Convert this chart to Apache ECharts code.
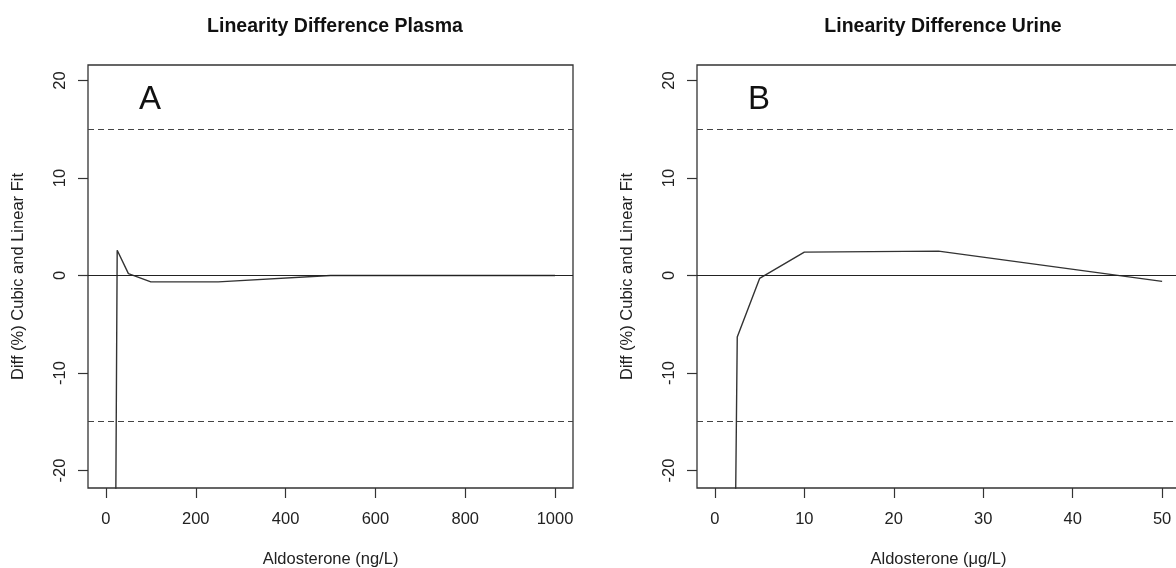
<!DOCTYPE html>
<html><head><meta charset="utf-8">
<script src="https://cdn.jsdelivr.net/npm/echarts@6/dist/echarts.min.js"></script>
<style>html,body{margin:0;padding:0;background:#fff}#c{width:1176px;height:568px}</style>
</head><body><div id="c"></div>
<script>
// Panel A: plasma
const plasmaX = [12.5, 25, 50, 100, 250, 500, 1000];
const plasmaDiff = [-100, 2.6, 0.2, -0.65, -0.65, 0.0, 0.0];
// Panel B: urine
const urineX = [1.25, 2.5, 5, 10, 25, 50];
const urineDiff = [-120, -6.3, -0.3, 2.4, 2.5, -0.6];
const plasmaTicks = [0, 200, 400, 600, 800, 1000];
const urineTicks = [0, 10, 20, 30, 40, 50];
const yTicks = [-20, -10, 0, 10, 20];
const limitLines = [15, -15];
const zeroLine = [0];

const FONT = 'Liberation Sans, Arial, sans-serif';
const ink = '#333';

function xAx(idx, min, max, ticks, name) {
  return {
    gridIndex: idx, type: 'value', min: min, max: max,
    name: name, nameLocation: 'middle', nameGap: 63,
    nameTextStyle: {fontFamily: FONT, fontSize: 16.5, color: '#222'},
    axisLine: {show: false, onZero: false},
    axisTick: {show: true, inside: false, length: 10, lineStyle: {color: ink, width: 1.2}, customValues: ticks},
    axisLabel: {fontFamily: FONT, fontSize: 16.5, color: '#222', margin: 23, customValues: ticks,
                formatter: v => String(v)},
    splitLine: {show: false}
  };
}
function yAx(idx) {
  return {
    gridIndex: idx, type: 'value', min: -21.8, max: 21.6,
    name: 'Diff (%) Cubic and Linear Fit', nameLocation: 'middle', nameGap: 61,
    nameTextStyle: {fontFamily: FONT, fontSize: 16.5, color: '#222'},
    axisLine: {show: false, onZero: false},
    axisTick: {show: true, inside: false, length: 10, lineStyle: {color: ink, width: 1.2}, customValues: yTicks},
    axisLabel: {fontFamily: FONT, fontSize: 16.5, color: '#222', margin: 19, rotate: 90, customValues: yTicks,
                formatter: v => String(v)},
    splitLine: {show: false}
  };
}
function refLines() {
  return {
    silent: true, symbol: 'none', label: {show: false},
    data: limitLines.map(v => ({yAxis: v, lineStyle: {type: [6, 4], color: '#444', width: 1.2}}))
      .concat(zeroLine.map(v => ({yAxis: v, lineStyle: {type: 'solid', color: '#222', width: 1.2}})))
  };
}

const chart = echarts.init(document.getElementById('c'), null, {renderer: 'canvas'});
chart.setOption({
  animation: false,
  backgroundColor: '#fff',
  title: [
    {text: 'Linearity Difference Plasma', left: 330, top: 12, textAlign: 'center',
     textStyle: {fontFamily: FONT, fontSize: 19.5, fontWeight: 'bold', color: '#111'}},
    {text: 'Linearity Difference Urine', left: 938, top: 12, textAlign: 'center',
     textStyle: {fontFamily: FONT, fontSize: 19.5, fontWeight: 'bold', color: '#111'}}
  ],
  grid: [
    {left: 88, top: 65, width: 485, height: 423, outerBoundsMode: 'none', containLabel: false,
     show: true, borderColor: ink, borderWidth: 1.3, backgroundColor: 'transparent'},
    {left: 697, top: 65, width: 483, height: 423, outerBoundsMode: 'none', containLabel: false,
     show: true, borderColor: ink, borderWidth: 1.3, backgroundColor: 'transparent'}
  ],
  xAxis: [
    xAx(0, -40, 1040, plasmaTicks, 'Aldosterone (ng/L)'),
    xAx(1, -2, 52, urineTicks, 'Aldosterone (\u03bcg/L)')
  ],
  yAxis: [yAx(0), yAx(1)],
  graphic: [
    {type: 'text', left: 139, top: 83, style: {text: 'A', fontFamily: FONT, fontSize: 33, fill: '#111'}},
    {type: 'text', left: 748, top: 83, style: {text: 'B', fontFamily: FONT, fontSize: 33, fill: '#111'}}
  ],
  series: [
    {type: 'line', xAxisIndex: 0, yAxisIndex: 0, data: plasmaX.map((x, i) => [x, plasmaDiff[i]]),
     showSymbol: false, symbol: 'none', clip: true, lineStyle: {color: '#333', width: 1.4}, markLine: refLines()},
    {type: 'line', xAxisIndex: 1, yAxisIndex: 1, data: urineX.map((x, i) => [x, urineDiff[i]]),
     showSymbol: false, symbol: 'none', clip: true, lineStyle: {color: '#333', width: 1.4}, markLine: refLines()}
  ]
});
</script></body></html>
